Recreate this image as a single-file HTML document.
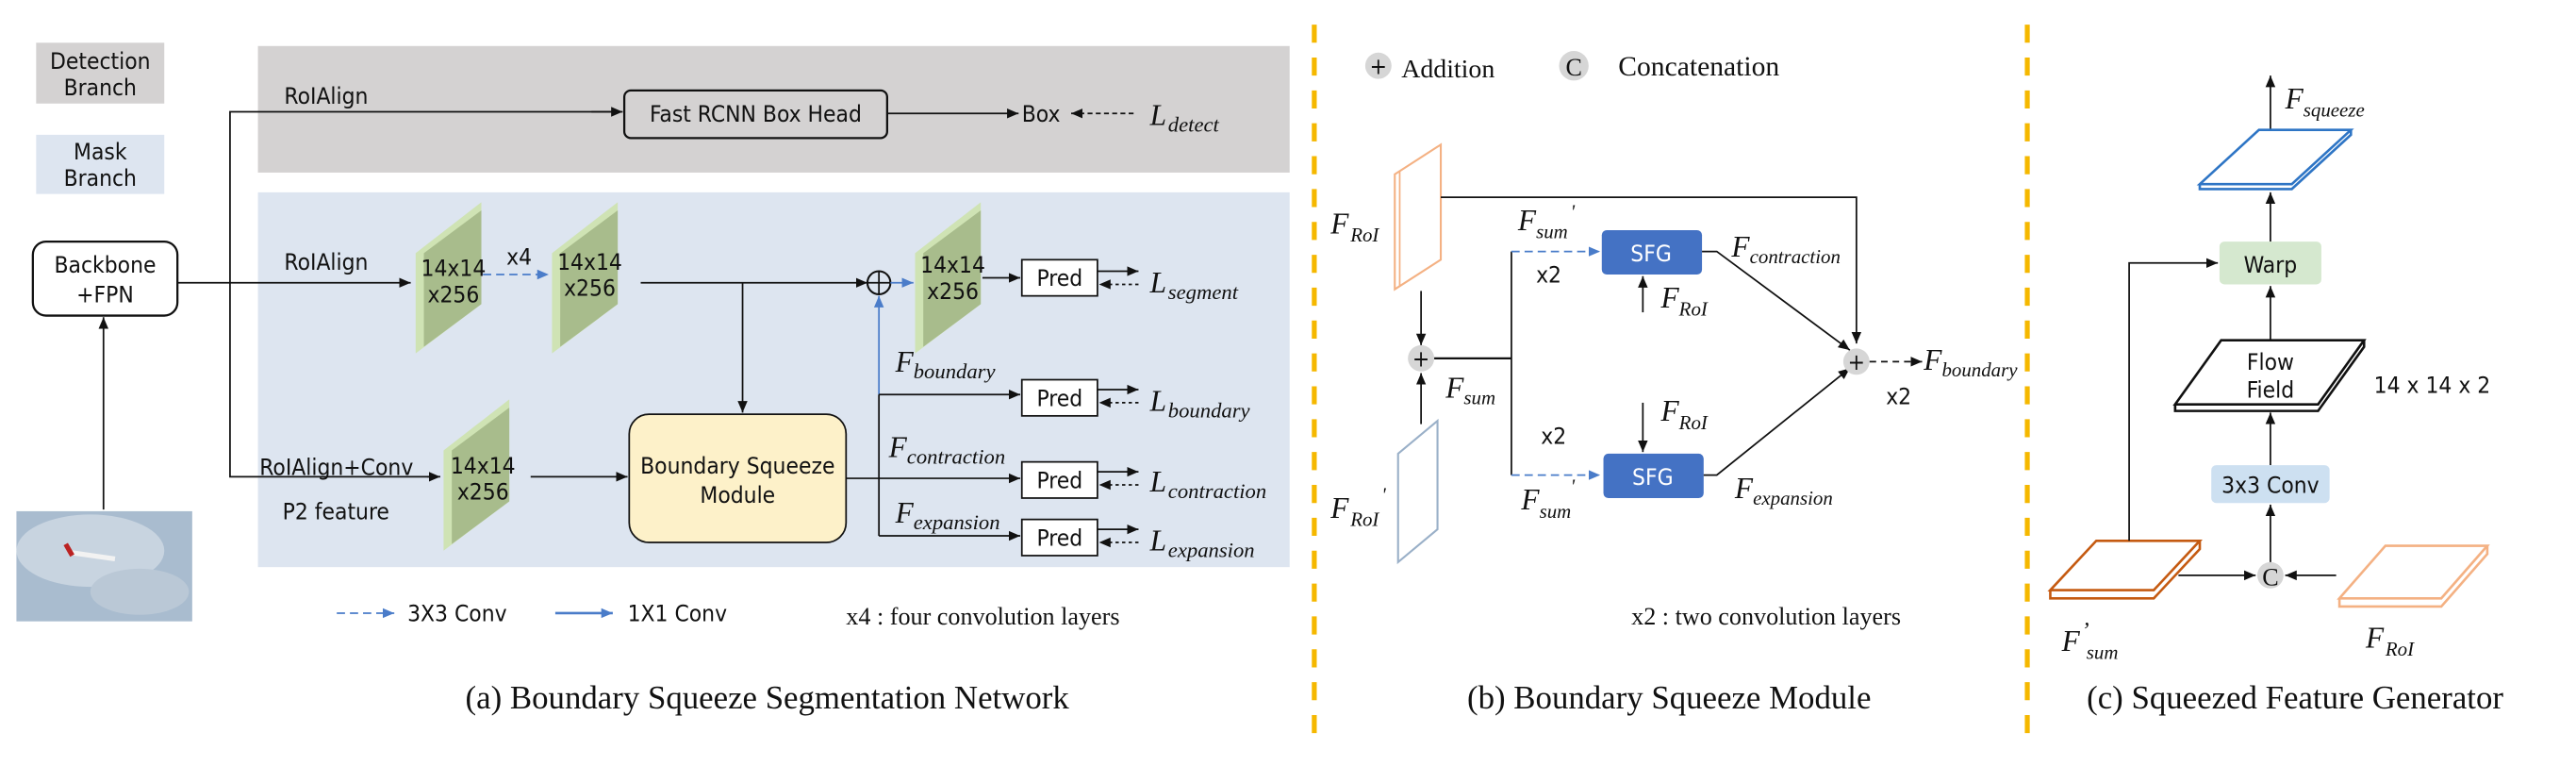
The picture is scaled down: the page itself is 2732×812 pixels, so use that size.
<!DOCTYPE html>
<html><head><meta charset="utf-8"><style>
html,body{margin:0;padding:0;background:#fff;}
svg{display:block;}
.s{font-family:"DejaVu Sans Condensed","Liberation Sans",sans-serif;font-size:14px;fill:#111;}
.r{font-family:"Liberation Serif",serif;fill:#111;}
.i{font-family:"Liberation Serif",serif;font-style:italic;fill:#111;}
</style></head><body>
<svg width="2732" height="812" viewBox="0 0 1568 466" preserveAspectRatio="none" xmlns="http://www.w3.org/2000/svg">
<defs>
<marker id="a" markerWidth="8" markerHeight="8" refX="7" refY="4" orient="auto" markerUnits="userSpaceOnUse"><path d="M0,1 L7,4 L0,7 z" fill="#111"/></marker>
<marker id="b" markerWidth="8" markerHeight="8" refX="7" refY="4" orient="auto" markerUnits="userSpaceOnUse"><path d="M0,1 L7,4 L0,7 z" fill="#4a7cc9"/></marker>
<g id="cube">
<polygon points="0,31 40,0 40,62 0,92" fill="#cfe3b4"/>
<polygon points="5,31 40,5 40,62 5,88" fill="#a8bc8c"/>
</g>
</defs>
<rect x="22" y="26" width="78" height="37" fill="#d4d2d2"/>
<text class="s" x="61" y="42" text-anchor="middle">Detection</text>
<text class="s" x="61" y="58" text-anchor="middle" font-size="13">Branch</text>
<rect x="22" y="82" width="78" height="36" fill="#dde5f0"/>
<text class="s" x="61" y="97" text-anchor="middle">Mask</text>
<text class="s" x="61" y="113" text-anchor="middle">Branch</text>
<rect x="157" y="28" width="628" height="77" fill="#d4d2d2"/>
<rect x="157" y="117" width="628" height="228" fill="#dde5f0"/>
<rect x="20" y="147" width="88" height="45" rx="8" fill="#fff" stroke="#111" stroke-width="1.3"/>
<text class="s" x="64" y="166" text-anchor="middle">Backbone</text>
<text class="s" x="64" y="184" text-anchor="middle">+FPN</text>
<rect x="10" y="311" width="107" height="67" fill="#a9bccf"/>
<ellipse cx="55" cy="335" rx="45" ry="22" fill="#c8d4e0"/>
<ellipse cx="85" cy="360" rx="30" ry="14" fill="#bac8d6"/>
<path d="M42,336 L70,340" stroke="#f2f2f2" stroke-width="3"/>
<path d="M40,331 L44,338" stroke="#b22" stroke-width="3"/>
<line x1="63" y1="310" x2="63" y2="193" stroke="#111" marker-end="url(#a)"/>
<line x1="108" y1="172" x2="140" y2="172" stroke="#111"/>
<polyline points="373,68 140,68 140,290 266,290" fill="none" stroke="#111"/>
<line x1="360" y1="68" x2="379" y2="68" stroke="#111" marker-end="url(#a)"/>
<line x1="260" y1="290" x2="268" y2="290" stroke="#111" marker-end="url(#a)"/>
<text class="s" x="173" y="63">RoIAlign</text>
<rect x="380" y="55" width="160" height="29" rx="4" fill="none" stroke="#111" stroke-width="1.3"/>
<text class="s" x="460" y="74" text-anchor="middle">Fast RCNN Box Head</text>
<line x1="540" y1="69" x2="620" y2="69" stroke="#111" marker-end="url(#a)"/>
<text class="s" x="622" y="74">Box</text>
<line x1="690" y1="69" x2="652" y2="69" stroke="#111" stroke-dasharray="3,2" marker-end="url(#a)"/>
<text class="i" x="700" y="76" font-size="18">L</text><text class="i" x="711" y="80" font-size="13">detect</text>
<line x1="140" y1="172" x2="250" y2="172" stroke="#111" marker-end="url(#a)"/>
<text class="s" x="173" y="164">RoIAlign</text>
<use href="#cube" x="253" y="123"/>
<text class="s" x="276" y="168" text-anchor="middle" font-size="13">14x14</text>
<text class="s" x="276" y="184" text-anchor="middle" font-size="13">x256</text>
<text class="s" x="316" y="161" text-anchor="middle">x4</text>
<line x1="294" y1="167" x2="334" y2="167" stroke="#4a7cc9" stroke-dasharray="5,3" marker-end="url(#b)"/>
<use href="#cube" x="336" y="123"/>
<text class="s" x="359" y="164" text-anchor="middle" font-size="13">14x14</text>
<text class="s" x="359" y="180" text-anchor="middle" font-size="13">x256</text>
<line x1="390" y1="172" x2="528" y2="172" stroke="#111" marker-end="url(#a)"/>
<line x1="452" y1="172" x2="452" y2="251" stroke="#111" marker-end="url(#a)"/>
<circle cx="535" cy="172" r="7" fill="none" stroke="#111" stroke-width="1.2"/>
<line x1="528" y1="172" x2="542" y2="172" stroke="#111"/><line x1="535" y1="165" x2="535" y2="179" stroke="#111"/>
<line x1="542" y1="172" x2="556" y2="172" stroke="#4a7cc9" marker-end="url(#b)"/>
<use href="#cube" x="557" y="123"/>
<text class="s" x="580" y="166" text-anchor="middle" font-size="13">14x14</text>
<text class="s" x="580" y="182" text-anchor="middle" font-size="13">x256</text>
<line x1="598" y1="169" x2="621" y2="169" stroke="#111" marker-end="url(#a)"/>
<line x1="535" y1="240" x2="535" y2="180" stroke="#4a7cc9" marker-end="url(#b)"/>
<line x1="535" y1="240" x2="535" y2="326" stroke="#111"/>
<rect x="622" y="158" width="46" height="22" fill="#fff" stroke="#111"/><text class="s" x="645" y="174" text-anchor="middle">Pred</text>
<rect x="622" y="231" width="46" height="22" fill="#fff" stroke="#111"/><text class="s" x="645" y="247" text-anchor="middle">Pred</text>
<rect x="622" y="281" width="46" height="22" fill="#fff" stroke="#111"/><text class="s" x="645" y="297" text-anchor="middle">Pred</text>
<rect x="622" y="316" width="46" height="22" fill="#fff" stroke="#111"/><text class="s" x="645" y="332" text-anchor="middle">Pred</text>
<line x1="535" y1="240" x2="621" y2="240" stroke="#111" marker-end="url(#a)"/>
<line x1="515" y1="291" x2="621" y2="291" stroke="#111" marker-end="url(#a)"/>
<line x1="535" y1="326" x2="621" y2="326" stroke="#111" marker-end="url(#a)"/>
<g stroke="#111">
<line x1="668" y1="165" x2="693" y2="165" marker-end="url(#a)"/><line x1="693" y1="173" x2="669" y2="173" stroke-dasharray="2,2" marker-end="url(#a)"/>
<line x1="668" y1="237" x2="693" y2="237" marker-end="url(#a)"/><line x1="693" y1="245" x2="669" y2="245" stroke-dasharray="2,2" marker-end="url(#a)"/>
<line x1="668" y1="287" x2="693" y2="287" marker-end="url(#a)"/><line x1="693" y1="295" x2="669" y2="295" stroke-dasharray="2,2" marker-end="url(#a)"/>
<line x1="668" y1="322" x2="693" y2="322" marker-end="url(#a)"/><line x1="693" y1="330" x2="669" y2="330" stroke-dasharray="2,2" marker-end="url(#a)"/>
</g>
<text class="i" x="700" y="178" font-size="18">L</text><text class="i" x="711" y="182" font-size="13">segment</text>
<text class="i" x="700" y="250" font-size="18">L</text><text class="i" x="711" y="254" font-size="13">boundary</text>
<text class="i" x="700" y="299" font-size="18">L</text><text class="i" x="711" y="303" font-size="13">contraction</text>
<text class="i" x="700" y="335" font-size="18">L</text><text class="i" x="711" y="339" font-size="13">expansion</text>
<text class="i" x="545" y="226" font-size="18">F</text><text class="i" x="556" y="230" font-size="13">boundary</text>
<text class="i" x="541" y="278" font-size="18">F</text><text class="i" x="552" y="282" font-size="13">contraction</text>
<text class="i" x="545" y="318" font-size="18">F</text><text class="i" x="556" y="322" font-size="13">expansion</text>
<text class="s" x="158" y="289">RoIAlign+Conv</text>
<text class="s" x="172" y="316">P2 feature</text>
<use href="#cube" x="270" y="243"/>
<text class="s" x="294" y="288" text-anchor="middle" font-size="13">14x14</text>
<text class="s" x="294" y="304" text-anchor="middle" font-size="13">x256</text>
<line x1="323" y1="290" x2="382" y2="290" stroke="#111" marker-end="url(#a)"/>
<rect x="383" y="252" width="132" height="78" rx="12" fill="#fdf1c9" stroke="#111" stroke-width="1"/>
<text class="s" x="449" y="288" text-anchor="middle">Boundary Squeeze</text>
<text class="s" x="449" y="306" text-anchor="middle">Module</text>
<line x1="205" y1="373" x2="240" y2="373" stroke="#4a7cc9" stroke-dasharray="5,3" marker-end="url(#b)"/>
<text class="s" x="248" y="378" font-size="13">3X3 Conv</text>
<line x1="338" y1="373" x2="373" y2="373" stroke="#4a7cc9" stroke-width="1.5" marker-end="url(#b)"/>
<text class="s" x="382" y="378" font-size="13">1X1 Conv</text>
<text class="r" x="515" y="380" font-size="15">x4  : four convolution layers</text>
<text class="r" x="467" y="431" font-size="20" text-anchor="middle">(a) Boundary Squeeze Segmentation Network</text>
<line x1="800" y1="15" x2="800" y2="450" stroke="#f5b800" stroke-width="3" stroke-dasharray="11,9"/>
<line x1="1234" y1="15" x2="1234" y2="450" stroke="#f5b800" stroke-width="3" stroke-dasharray="11,9"/>
<circle cx="839" cy="40" r="8" fill="#d6d6d6"/><text class="s" x="839" y="45" text-anchor="middle" font-size="15">+</text>
<text class="r" x="853" y="47" font-size="16">Addition</text>
<circle cx="958" cy="40" r="9" fill="#d6d6d6"/><text class="r" x="958" y="46" text-anchor="middle" font-size="15">C</text>
<text class="r" x="985" y="46" font-size="17">Concatenation</text>
<polygon points="849,106 877,88 877,158 849,176" fill="#fff" stroke="#f4b183" stroke-width="1.2"/>
<polyline points="852,104 852,174" stroke="#f4b183" fill="none"/>
<text class="i" x="810" y="142" font-size="18">F</text><text class="i" x="822" y="147" font-size="12">RoI</text>
<polyline points="877,120 1130,120 1130,209" fill="none" stroke="#111" marker-end="url(#a)"/>
<line x1="865" y1="177" x2="865" y2="210" stroke="#111" marker-end="url(#a)"/>
<circle cx="865" cy="218" r="8" fill="#d6d6d6"/><text class="s" x="865" y="223" text-anchor="middle" font-size="15">+</text>
<polygon points="851,276 875,256 875,322 851,342" fill="#fff" stroke="#9ab0c8" stroke-width="1.2"/>
<line x1="865" y1="258" x2="865" y2="227" stroke="#111" marker-end="url(#a)"/>
<text class="i" x="810" y="315" font-size="18">F</text><text class="i" x="822" y="320" font-size="12">RoI</text><text class="i" x="841" y="305" font-size="12">'</text>
<line x1="873" y1="218" x2="920" y2="218" stroke="#111" stroke-width="1.3"/>
<line x1="920" y1="153" x2="920" y2="289" stroke="#111"/>
<text class="i" x="880" y="242" font-size="18">F</text><text class="i" x="891" y="246" font-size="12">sum</text>
<line x1="920" y1="153" x2="974" y2="153" stroke="#4a7cc9" stroke-dasharray="5,3" marker-end="url(#b)"/>
<line x1="920" y1="289" x2="974" y2="289" stroke="#4a7cc9" stroke-dasharray="5,3" marker-end="url(#b)"/>
<text class="i" x="924" y="140" font-size="18">F</text><text class="i" x="935" y="145" font-size="12">sum</text><text class="i" x="956" y="133" font-size="12">'</text>
<text class="i" x="926" y="310" font-size="18">F</text><text class="i" x="937" y="315" font-size="12">sum</text><text class="i" x="956" y="300" font-size="12">'</text>
<text class="s" x="935" y="172" font-size="15">x2</text>
<text class="s" x="938" y="270" font-size="15">x2</text>
<rect x="975" y="140" width="61" height="27" rx="3" fill="#4472c4"/>
<text class="s" x="1005" y="159" text-anchor="middle" font-size="15" style="fill:#fff">SFG</text>
<rect x="976" y="276" width="61" height="27" rx="3" fill="#4472c4"/>
<text class="s" x="1006" y="295" text-anchor="middle" font-size="15" style="fill:#fff">SFG</text>
<line x1="1000" y1="190" x2="1000" y2="168" stroke="#111" marker-end="url(#a)"/>
<text class="i" x="1011" y="187" font-size="18">F</text><text class="i" x="1022" y="192" font-size="12">RoI</text>
<line x1="1000" y1="245" x2="1000" y2="275" stroke="#111" marker-end="url(#a)"/>
<text class="i" x="1011" y="256" font-size="18">F</text><text class="i" x="1022" y="261" font-size="12">RoI</text>
<polyline points="1036,153 1045,153 1126,213" fill="none" stroke="#111" marker-end="url(#a)"/>
<polyline points="1037,289 1045,289 1126,224" fill="none" stroke="#111" marker-end="url(#a)"/>
<text class="i" x="1054" y="156" font-size="18">F</text><text class="i" x="1065" y="160" font-size="12">contraction</text>
<text class="i" x="1056" y="303" font-size="18">F</text><text class="i" x="1067" y="307" font-size="12">expansion</text>
<circle cx="1130" cy="220" r="8" fill="#d6d6d6"/><text class="s" x="1130" y="225" text-anchor="middle" font-size="15">+</text>
<line x1="1138" y1="220" x2="1170" y2="220" stroke="#111" stroke-dasharray="4,3" marker-end="url(#a)"/>
<text class="i" x="1171" y="225" font-size="18">F</text><text class="i" x="1182" y="229" font-size="12">boundary</text>
<text class="s" x="1148" y="246" font-size="15">x2</text>
<text class="r" x="993" y="380" font-size="15">x2  : two convolution layers</text>
<text class="r" x="1016" y="431" font-size="20" text-anchor="middle">(b) Boundary Squeeze Module</text>
<line x1="1382" y1="79" x2="1382" y2="46" stroke="#111" marker-end="url(#a)"/>
<text class="i" x="1391" y="66" font-size="18">F</text><text class="i" x="1402" y="71" font-size="12">squeeze</text>
<polygon points="1339,112 1375,79 1431,79 1395,112" fill="#fff" stroke="#2e75c5" stroke-width="1.5"/>
<polyline points="1339,112 1339,115 1395,115 1431,82 1431,79" fill="none" stroke="#2e75c5" stroke-width="1.5"/>
<line x1="1382" y1="147" x2="1382" y2="117" stroke="#111" marker-end="url(#a)"/>
<rect x="1351" y="147" width="62" height="26" rx="3" fill="#d5e8cf"/>
<text class="s" x="1382" y="166" text-anchor="middle" font-size="15">Warp</text>
<line x1="1382" y1="207" x2="1382" y2="174" stroke="#111" marker-end="url(#a)"/>
<polygon points="1324,246 1352,207 1439,207 1411,246" fill="#fff" stroke="#111" stroke-width="1.5"/>
<polyline points="1324,246 1324,250 1411,250 1439,211 1439,207" fill="none" stroke="#111" stroke-width="1.5"/>
<text class="s" x="1382" y="225" text-anchor="middle">Flow</text>
<text class="s" x="1382" y="242" text-anchor="middle">Field</text>
<text class="s" x="1445" y="239" font-size="15">14 x 14 x 2</text>
<line x1="1382" y1="283" x2="1382" y2="251" stroke="#111" marker-end="url(#a)"/>
<rect x="1346" y="283" width="72" height="23" rx="3" fill="#cde0f1"/>
<text class="s" x="1382" y="300" text-anchor="middle">3x3 Conv</text>
<line x1="1382" y1="342" x2="1382" y2="307" stroke="#111" marker-end="url(#a)"/>
<circle cx="1382" cy="350" r="8" fill="#d6d6d6"/><text class="r" x="1382" y="356" text-anchor="middle" font-size="15">C</text>
<polygon points="1248,359 1276,329 1339,329 1311,359" fill="#fff" stroke="#c55a11" stroke-width="1.5"/>
<polyline points="1248,359 1248,364 1311,364 1339,334 1339,329" fill="none" stroke="#c55a11" stroke-width="1.5"/>
<polygon points="1424,364 1452,332 1514,332 1486,364" fill="#fff" stroke="#f4b183" stroke-width="1.5"/>
<polyline points="1424,364 1424,369 1486,369 1514,337 1514,332" fill="none" stroke="#f4b183" stroke-width="1.5"/>
<line x1="1326" y1="350" x2="1373" y2="350" stroke="#111" marker-end="url(#a)"/>
<line x1="1422" y1="350" x2="1391" y2="350" stroke="#111" marker-end="url(#a)"/>
<polyline points="1296,329 1296,160 1350,160" fill="none" stroke="#111" marker-end="url(#a)"/>
<text class="i" x="1255" y="396" font-size="18">F</text><text class="i" x="1267" y="388" font-size="14">’</text><text class="i" x="1270" y="401" font-size="12">sum</text>
<text class="i" x="1440" y="394" font-size="18">F</text><text class="i" x="1452" y="399" font-size="12">RoI</text>
<text class="r" x="1397" y="431" font-size="20" text-anchor="middle">(c) Squeezed Feature Generator</text>
</svg>
</body></html>
